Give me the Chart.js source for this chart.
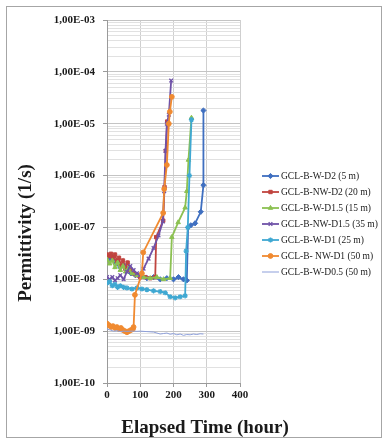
<!DOCTYPE html>
<html>
<head>
<meta charset="utf-8">
<script src="https://cdn.jsdelivr.net/npm/chart.js@4.4.1/dist/chart.umd.min.js"></script>
<style>
  html, body { margin: 0; padding: 0; background: #ffffff; }
  #wrap { width: 382px; height: 439px; position: relative; }
</style>
</head>
<body>
<div id="wrap"><canvas id="c" width="382" height="439"></canvas></div>
<script>
// Permittivity of GCL specimens versus elapsed time (log scale)

const seriesNames = [
  'GCL-B-W-D2 (5 m)',
  'GCL-B-NW-D2 (20 m)',
  'GCL-B-W-D1.5 (15 m)',
  'GCL-B-NW-D1.5 (35 m)',
  'GCL-B-W-D1 (25 m)',
  'GCL-B- NW-D1 (50 m)',
  'GCL-B-W-D0.5 (50 m)'
];

const xTicks = [0, 100, 200, 300, 400];

// GCL-B-W-D2 (5 m)
const hoursWD2 = [0, 8, 16, 24, 32, 40, 50, 60, 72, 85, 100, 120, 140, 160, 180, 200, 215, 230, 240, 244, 252, 265, 282, 290, 290];
const permWD2  = [2.6e-8, 2.4e-8, 2.7e-8, 2.2e-8, 2.0e-8, 1.7e-8, 1.9e-8, 1.6e-8, 1.3e-8, 1.2e-8, 1.1e-8, 1.05e-8, 1.1e-8, 1.0e-8, 1.05e-8, 1.0e-8, 1.1e-8, 1.0e-8, 9.5e-9, 1.0e-7, 1.1e-7, 1.2e-7, 2.0e-7, 6.5e-7, 1.8e-5];

// GCL-B-NW-D2 (20 m)
const hoursNWD2 = [0, 6, 12, 18, 24, 30, 36, 42, 48, 55, 62, 70, 80, 90, 100, 115, 130, 145, 148, 169, 173, 177, 181];
const permNWD2  = [3.0e-8, 2.8e-8, 3.1e-8, 2.6e-8, 3.0e-8, 2.2e-8, 2.6e-8, 1.8e-8, 2.3e-8, 1.6e-8, 2.1e-8, 1.5e-8, 1.3e-8, 1.2e-8, 1.1e-8, 1.1e-8, 1.05e-8, 1.1e-8, 6.5e-8, 1.35e-7, 6.0e-7, 3.0e-6, 1.1e-5];

// GCL-B-W-D1.5 (15 m)
const hoursWD15 = [0, 8, 16, 24, 32, 40, 48, 56, 64, 75, 90, 110, 130, 150, 170, 190, 195, 214, 235, 240, 245, 254];
const permWD15  = [2.4e-8, 2.0e-8, 2.3e-8, 1.7e-8, 2.1e-8, 1.5e-8, 1.8e-8, 1.4e-8, 1.6e-8, 1.3e-8, 1.2e-8, 1.1e-8, 1.05e-8, 1.1e-8, 1.0e-8, 1.05e-8, 6.5e-8, 1.25e-7, 2.4e-7, 5.0e-7, 2.0e-6, 1.3e-5];

// GCL-B-NW-D1.5 (35 m)
const hoursNWD15 = [0, 8, 16, 24, 32, 40, 50, 60, 70, 80, 90, 100, 110, 125, 140, 155, 168, 172, 176, 180, 186, 193];
const permNWD15  = [1.1e-8, 1.0e-8, 1.1e-8, 9.5e-9, 1.05e-8, 1.2e-8, 1.0e-8, 1.4e-8, 1.8e-8, 1.5e-8, 1.3e-8, 1.2e-8, 1.6e-8, 2.5e-8, 4.0e-8, 7.0e-8, 1.3e-7, 5.0e-7, 3.0e-6, 1.0e-5, 1.5e-5, 6.8e-5];

// GCL-B-W-D1 (25 m)
const hoursWD1 = [0, 8, 16, 24, 32, 40, 50, 60, 75, 90, 105, 120, 140, 160, 175, 190, 205, 220, 235, 238, 243, 248, 254];
const permWD1  = [8.5e-9, 9.0e-9, 7.5e-9, 8.0e-9, 7.0e-9, 7.5e-9, 7.0e-9, 6.8e-9, 6.5e-9, 6.8e-9, 6.5e-9, 6.3e-9, 6.0e-9, 5.8e-9, 5.5e-9, 4.6e-9, 4.4e-9, 4.6e-9, 4.8e-9, 3.5e-8, 1.0e-7, 1.0e-6, 1.2e-5];

// GCL-B- NW-D1 (50 m)
const hoursNWD1 = [0, 6, 12, 18, 24, 30, 36, 42, 48, 54, 60, 66, 72, 78, 80, 84, 105, 109, 169, 172, 180, 186, 189, 195];
const permNWD1  = [1.4e-9, 1.3e-9, 1.2e-9, 1.25e-9, 1.15e-9, 1.2e-9, 1.1e-9, 1.15e-9, 1.05e-9, 1.0e-9, 9.5e-10, 1.0e-9, 1.05e-9, 1.1e-9, 1.2e-9, 5.0e-9, 1.3e-8, 3.3e-8, 1.9e-7, 5.5e-7, 1.6e-6, 1.0e-5, 1.7e-5, 3.3e-5];

// GCL-B-W-D0.5 (50 m)
const hoursWD05 = [0, 10, 20, 30, 40, 50, 60, 70, 80, 90, 100, 120, 140, 150, 160, 170, 180, 190, 200, 210, 220, 230, 240, 250, 260, 270, 280, 290];
const permWD05  = [1.1e-9, 1.05e-9, 1.0e-9, 1.02e-9, 9.8e-10, 1.0e-9, 9.9e-10, 1.0e-9, 1.0e-9, 9.9e-10, 1.0e-9, 9.8e-10, 9.6e-10, 9.2e-10, 8.8e-10, 9.0e-10, 9.2e-10, 8.7e-10, 9.0e-10, 8.5e-10, 8.8e-10, 8.3e-10, 8.6e-10, 8.5e-10, 8.8e-10, 8.6e-10, 8.9e-10, 8.8e-10];

const allHours = [hoursWD2, hoursNWD2, hoursWD15, hoursNWD15, hoursWD1, hoursNWD1, hoursWD05];
const allPerm  = [permWD2, permNWD2, permWD15, permNWD15, permWD1, permNWD1, permWD05];

const styles = [
  { color: '#3f6fc0', point: 'rectRot',  radius: 2.6, width: 1.8 },
  { color: '#c0443f', point: 'rect',     radius: 2.4, width: 1.8 },
  { color: '#8cc152', point: 'triangle', radius: 2.6, width: 1.8 },
  { color: '#6f52a8', point: 'crossRot', radius: 2.6, width: 1.8 },
  { color: '#3fa8d2', point: 'star',     radius: 2.6, width: 1.8 },
  { color: '#f08a30', point: 'circle',   radius: 2.4, width: 1.8 },
  { color: '#8d9fda', point: 'circle',   radius: 0,   width: 1.0 }
];

const FONT = "'Liberation Serif', 'Times New Roman', serif";
const PLOT = { left: 107, right: 240, top: 20, bottom: 383 };

function isDecade(v) {
  const l = Math.log10(v);
  return Math.abs(l - Math.round(l)) < 1e-6;
}
function sciLabel(v) {
  const e = Math.round(Math.log10(v));
  return '1,00E-' + String(-e).padStart(2, '0');
}

const datasets = seriesNames.map((name, i) => ({
  label: name,
  data: allHours[i].map((h, k) => ({ x: h, y: allPerm[i][k] })),
  showLine: true,
  borderColor: styles[i].color,
  backgroundColor: styles[i].color,
  borderWidth: styles[i].width,
  pointStyle: styles[i].point,
  pointRadius: styles[i].radius,
  pointBorderWidth: styles[i].point === 'crossRot' || styles[i].point === 'star' ? 1.3 : 1,
  pointHoverRadius: 0,
  tension: 0,
  order: seriesNames.length - i
}));

// Frame, axis titles and legend drawn on top of the plot
const decorations = {
  id: 'decorations',
  afterDraw(chart) {
    const ctx = chart.ctx;
    ctx.save();
    // outer frame
    ctx.strokeStyle = '#a6a6a6';
    ctx.lineWidth = 1;
    ctx.strokeRect(6.5, 6.5, 375, 431);

    ctx.fillStyle = '#1a1a1a';
    // y axis title
    ctx.save();
    ctx.translate(26, 233);
    ctx.rotate(-Math.PI / 2);
    ctx.font = 'bold 19px ' + FONT;
    ctx.textAlign = 'center';
    ctx.textBaseline = 'middle';
    ctx.fillText('Permittivity (1/s)', 0, 0);
    ctx.restore();

    // x axis title
    ctx.font = 'bold 19px ' + FONT;
    ctx.textAlign = 'center';
    ctx.textBaseline = 'middle';
    ctx.fillText('Elapsed Time (hour)', 205, 428);

    // legend: line sample with marker, then the series name
    ctx.font = '9.5px ' + FONT;
    ctx.textAlign = 'left';
    chart.data.datasets.forEach((ds, i) => {
      const y = 176 + i * 16;
      ctx.strokeStyle = ds.borderColor;
      ctx.fillStyle = ds.backgroundColor;
      ctx.lineWidth = ds.borderWidth;
      ctx.beginPath();
      ctx.moveTo(262, y);
      ctx.lineTo(279, y);
      ctx.stroke();
      if (ds.pointRadius > 0) {
        ctx.lineWidth = ds.pointBorderWidth;
        Chart.helpers.drawPoint(ctx, {
          pointStyle: ds.pointStyle,
          radius: ds.pointRadius,
          rotation: 0,
          borderWidth: ds.pointBorderWidth
        }, 270.5, y);
      }
      ctx.fillStyle = '#1a1a1a';
      ctx.fillText(ds.label, 281, y);
    });
    ctx.restore();
  }
};

const chart = new Chart(document.getElementById('c'), {
  type: 'scatter',
  data: { datasets },
  options: {
    responsive: false,
    animation: false,
    devicePixelRatio: 1,
    layout: { padding: { left: 0, right: 382 - PLOT.right, top: PLOT.top, bottom: 0 } },
    plugins: { legend: { display: false }, tooltip: { enabled: false } },
    events: [],
    scales: {
      x: {
        type: 'linear',
        min: 0,
        max: 400,
        afterBuildTicks(scale) { scale.ticks = xTicks.map(v => ({ value: v })); },
        afterFit(scale) { scale.height = 439 - PLOT.bottom; },
        ticks: { color: '#1a1a1a', font: { family: FONT, size: 11, weight: 'bold' }, padding: 2, maxRotation: 0 },
        grid: { color: '#cfcfcf', tickColor: '#9a9a9a', tickLength: 4 },
        border: { color: '#9a9a9a' }
      },
      y: {
        type: 'logarithmic',
        min: 1e-10,
        max: 1e-3,
        afterBuildTicks(scale) {
          const t = [];
          for (let e = -10; e <= -3; e++) {
            for (let m = 1; m <= 9; m++) {
              const v = m * Math.pow(10, e);
              if (v > 1.0001e-3) break;
              t.push({ value: v, major: m === 1 });
            }
          }
          scale.ticks = t;
        },
        afterFit(scale) { scale.width = PLOT.left; },
        ticks: {
          autoSkip: false,
          color: '#1a1a1a',
          font: { family: FONT, size: 11, weight: 'bold' },
          padding: 8,
          callback: (v) => isDecade(v) ? sciLabel(v) : ''
        },
        grid: {
          color: (c) => (c.tick && isDecade(c.tick.value)) ? '#c4c4c4' : '#e1e1e1',
          tickColor: (c) => (c.tick && isDecade(c.tick.value)) ? '#9a9a9a' : 'rgba(0,0,0,0)',
          tickLength: 4
        },
        border: { color: '#9a9a9a' }
      }
    }
  },
  plugins: [decorations]
});
</script>
</body>
</html>
